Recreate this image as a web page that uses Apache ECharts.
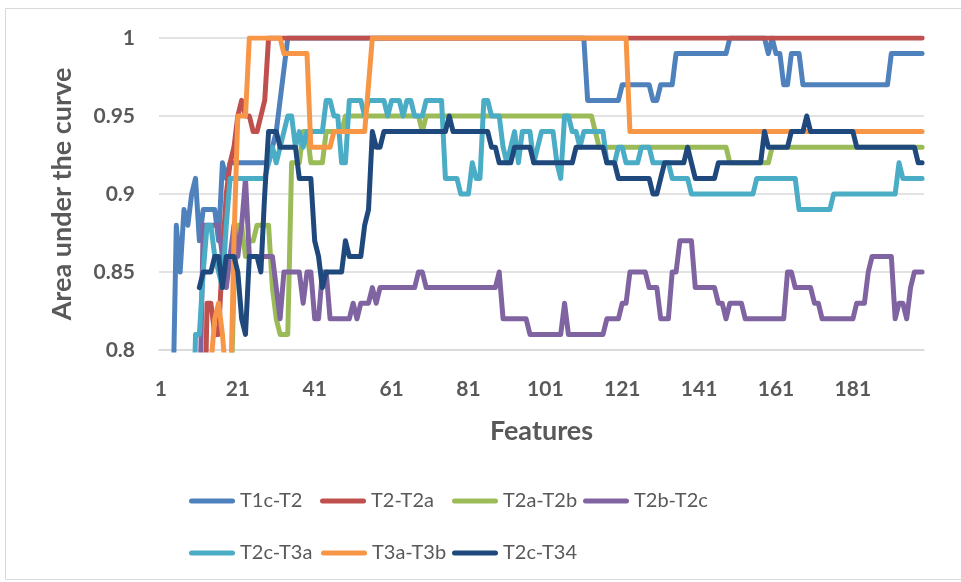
<style>
  body,
  html {
    overflow: hidden;
    width: 100%;
    height: 100%;
    margin: 0;
    padding: 0;
    background: #fff;
  }
  .chart-wrapper {
    position: relative;
    width: 961px;
    height: 582px;
  }
</style>

<div id="chart-wrapper" class="chart-wrapper"></div>

<script src="https://cdn.jsdelivr.net/npm/echarts@6/dist/echarts.min.js"></script>

<script>
  // features 1..199 (values below 0.8 fall under the axis and get clipped, like in Excel)
  const features = [];
  for (let i = 1; i <= 199; i++) features.push(String(i));

  const seriesNames = ["T1c-T2", "T2-T2a", "T2a-T2b", "T2b-T2c", "T2c-T3a", "T3a-T3b", "T2c-T34"];
  const seriesColors = ["#4F81BD", "#C0504D", "#9BBB59", "#8064A2", "#4BACC6", "#F79646", "#1F497D"];
  const yTicks = [0.8, 0.85, 0.9, 0.95, 1];

  const t1cT2 = [
    0.65, 0.7, 0.72, 0.75, 0.88, 0.85, 0.89, 0.88, 0.9, 0.91,
    0.87, 0.89, 0.89, 0.89, 0.89, 0.87, 0.92, 0.91, 0.92, 0.92,
    0.92, 0.92, 0.92, 0.92, 0.92, 0.92, 0.92, 0.92, 0.92, 0.93,
    0.94, 0.96, 0.98, 1, 1, 1, 1, 1, 1, 1,
    1, 1, 1, 1, 1, 1, 1, 1, 1, 1,
    1, 1, 1, 1, 1, 1, 1, 1, 1, 1,
    1, 1, 1, 1, 1, 1, 1, 1, 1, 1,
    1, 1, 1, 1, 1, 1, 1, 1, 1, 1,
    1, 1, 1, 1, 1, 1, 1, 1, 1, 1,
    1, 1, 1, 1, 1, 1, 1, 1, 1, 1,
    1, 1, 1, 1, 1, 1, 1, 1, 1, 1,
    1, 0.96, 0.96, 0.96, 0.96, 0.96, 0.96, 0.96, 0.96, 0.96,
    0.97, 0.97, 0.97, 0.97, 0.97, 0.97, 0.97, 0.97, 0.96, 0.96,
    0.97, 0.97, 0.97, 0.97, 0.99, 0.99, 0.99, 0.99, 0.99, 0.99,
    0.99, 0.99, 0.99, 0.99, 0.99, 0.99, 0.99, 0.99, 1, 1,
    1, 1, 1, 1, 1, 1, 1, 1, 0.99, 1,
    0.99, 0.99, 0.97, 0.97, 0.99, 0.99, 0.99, 0.97, 0.97, 0.97,
    0.97, 0.97, 0.97, 0.97, 0.97, 0.97, 0.97, 0.97, 0.97, 0.97,
    0.97, 0.97, 0.97, 0.97, 0.97, 0.97, 0.97, 0.97, 0.97, 0.97,
    0.99, 0.99, 0.99, 0.99, 0.99, 0.99, 0.99, 0.99, 0.99,
  ];

  const t2T2a = [
    0.7, 0.7, 0.7, 0.7, 0.7, 0.7, 0.7, 0.7, 0.7, 0.7,
    0.7, 0.7, 0.83, 0.83, 0.81, 0.81, 0.86, 0.9, 0.92, 0.93,
    0.95, 0.96, 0.95, 0.95, 0.94, 0.94, 0.95, 0.96, 1, 1,
    1, 1, 1, 1, 1, 1, 1, 1, 1, 1,
    1, 1, 1, 1, 1, 1, 1, 1, 1, 1,
    1, 1, 1, 1, 1, 1, 1, 1, 1, 1,
    1, 1, 1, 1, 1, 1, 1, 1, 1, 1,
    1, 1, 1, 1, 1, 1, 1, 1, 1, 1,
    1, 1, 1, 1, 1, 1, 1, 1, 1, 1,
    1, 1, 1, 1, 1, 1, 1, 1, 1, 1,
    1, 1, 1, 1, 1, 1, 1, 1, 1, 1,
    1, 1, 1, 1, 1, 1, 1, 1, 1, 1,
    1, 1, 1, 1, 1, 1, 1, 1, 1, 1,
    1, 1, 1, 1, 1, 1, 1, 1, 1, 1,
    1, 1, 1, 1, 1, 1, 1, 1, 1, 1,
    1, 1, 1, 1, 1, 1, 1, 1, 1, 1,
    1, 1, 1, 1, 1, 1, 1, 1, 1, 1,
    1, 1, 1, 1, 1, 1, 1, 1, 1, 1,
    1, 1, 1, 1, 1, 1, 1, 1, 1, 1,
    1, 1, 1, 1, 1, 1, 1, 1, 1,
  ];

  const t2aT2b = [
    0.7, 0.7, 0.7, 0.7, 0.7, 0.7, 0.7, 0.7, 0.7, 0.7,
    0.7, 0.7, 0.7, 0.7, 0.7, 0.7, 0.7, 0.7, 0.75, 0.84,
    0.88, 0.88, 0.86, 0.87, 0.87, 0.88, 0.88, 0.88, 0.88, 0.84,
    0.82, 0.81, 0.81, 0.81, 0.92, 0.92, 0.92, 0.94, 0.94, 0.92,
    0.92, 0.92, 0.92, 0.94, 0.94, 0.94, 0.94, 0.94, 0.95, 0.95,
    0.95, 0.95, 0.95, 0.95, 0.95, 0.95, 0.95, 0.95, 0.95, 0.95,
    0.95, 0.95, 0.95, 0.95, 0.95, 0.95, 0.95, 0.95, 0.94, 0.95,
    0.95, 0.95, 0.95, 0.95, 0.95, 0.95, 0.95, 0.95, 0.95, 0.95,
    0.95, 0.95, 0.95, 0.95, 0.95, 0.95, 0.95, 0.95, 0.95, 0.95,
    0.95, 0.95, 0.95, 0.95, 0.95, 0.95, 0.95, 0.95, 0.95, 0.95,
    0.95, 0.95, 0.95, 0.95, 0.95, 0.95, 0.95, 0.95, 0.95, 0.95,
    0.95, 0.95, 0.95, 0.94, 0.93, 0.93, 0.93, 0.93, 0.93, 0.93,
    0.93, 0.93, 0.93, 0.93, 0.93, 0.93, 0.93, 0.93, 0.93, 0.93,
    0.93, 0.93, 0.93, 0.93, 0.93, 0.93, 0.93, 0.93, 0.93, 0.93,
    0.93, 0.93, 0.93, 0.93, 0.93, 0.93, 0.93, 0.93, 0.92, 0.92,
    0.92, 0.92, 0.92, 0.92, 0.92, 0.92, 0.92, 0.92, 0.92, 0.93,
    0.93, 0.93, 0.93, 0.93, 0.93, 0.93, 0.93, 0.93, 0.93, 0.93,
    0.93, 0.93, 0.93, 0.93, 0.93, 0.93, 0.93, 0.93, 0.93, 0.93,
    0.93, 0.93, 0.93, 0.93, 0.93, 0.93, 0.93, 0.93, 0.93, 0.93,
    0.93, 0.93, 0.93, 0.93, 0.93, 0.93, 0.93, 0.93, 0.93,
  ];

  const t2bT2c = [
    0.7, 0.7, 0.7, 0.7, 0.7, 0.7, 0.7, 0.7, 0.7, 0.7,
    0.75, 0.88, 0.88, 0.88, 0.88, 0.88, 0.86, 0.84, 0.86, 0.88,
    0.86, 0.88, 0.91, 0.86, 0.86, 0.86, 0.86, 0.86, 0.86, 0.86,
    0.84, 0.82, 0.85, 0.85, 0.85, 0.85, 0.85, 0.83, 0.85, 0.85,
    0.82, 0.82, 0.85, 0.85, 0.82, 0.82, 0.82, 0.82, 0.82, 0.82,
    0.83, 0.82, 0.83, 0.83, 0.83, 0.84, 0.83, 0.84, 0.84, 0.84,
    0.84, 0.84, 0.84, 0.84, 0.84, 0.84, 0.84, 0.85, 0.85, 0.84,
    0.84, 0.84, 0.84, 0.84, 0.84, 0.84, 0.84, 0.84, 0.84, 0.84,
    0.84, 0.84, 0.84, 0.84, 0.84, 0.84, 0.84, 0.84, 0.85, 0.82,
    0.82, 0.82, 0.82, 0.82, 0.82, 0.82, 0.81, 0.81, 0.81, 0.81,
    0.81, 0.81, 0.81, 0.81, 0.81, 0.83, 0.81, 0.81, 0.81, 0.81,
    0.81, 0.81, 0.81, 0.81, 0.81, 0.81, 0.82, 0.82, 0.82, 0.82,
    0.83, 0.83, 0.85, 0.85, 0.85, 0.85, 0.85, 0.84, 0.84, 0.84,
    0.82, 0.82, 0.82, 0.85, 0.85, 0.87, 0.87, 0.87, 0.87, 0.84,
    0.84, 0.84, 0.84, 0.84, 0.84, 0.83, 0.83, 0.82, 0.83, 0.83,
    0.83, 0.83, 0.82, 0.82, 0.82, 0.82, 0.82, 0.82, 0.82, 0.82,
    0.82, 0.82, 0.82, 0.85, 0.85, 0.84, 0.84, 0.84, 0.84, 0.84,
    0.83, 0.83, 0.82, 0.82, 0.82, 0.82, 0.82, 0.82, 0.82, 0.82,
    0.82, 0.83, 0.83, 0.83, 0.85, 0.86, 0.86, 0.86, 0.86, 0.86,
    0.86, 0.82, 0.83, 0.83, 0.82, 0.84, 0.85, 0.85, 0.85,
  ];

  const t2cT3a = [
    0.7, 0.7, 0.7, 0.7, 0.7, 0.7, 0.7, 0.7, 0.7, 0.81,
    0.81, 0.85, 0.88, 0.88, 0.86, 0.85, 0.84, 0.88, 0.91, 0.91,
    0.91, 0.91, 0.91, 0.91, 0.91, 0.91, 0.91, 0.91, 0.92, 0.93,
    0.92, 0.93, 0.94, 0.95, 0.95, 0.93, 0.94, 0.93, 0.94, 0.94,
    0.94, 0.94, 0.94, 0.96, 0.96, 0.95, 0.95, 0.92, 0.92, 0.96,
    0.96, 0.96, 0.96, 0.95, 0.96, 0.96, 0.96, 0.96, 0.96, 0.95,
    0.96, 0.96, 0.96, 0.95, 0.96, 0.96, 0.95, 0.95, 0.95, 0.96,
    0.96, 0.96, 0.96, 0.96, 0.91, 0.91, 0.91, 0.91, 0.9, 0.9,
    0.9, 0.92, 0.91, 0.91, 0.96, 0.96, 0.95, 0.95, 0.95, 0.93,
    0.92, 0.93, 0.94, 0.92, 0.94, 0.94, 0.94, 0.92, 0.93, 0.94,
    0.94, 0.94, 0.94, 0.92, 0.91, 0.95, 0.95, 0.94, 0.94, 0.93,
    0.94, 0.94, 0.94, 0.94, 0.94, 0.94, 0.92, 0.92, 0.92, 0.93,
    0.93, 0.92, 0.92, 0.92, 0.92, 0.93, 0.93, 0.93, 0.92, 0.92,
    0.92, 0.92, 0.92, 0.91, 0.91, 0.91, 0.91, 0.91, 0.9, 0.9,
    0.9, 0.9, 0.9, 0.9, 0.9, 0.9, 0.9, 0.9, 0.9, 0.9,
    0.9, 0.9, 0.9, 0.9, 0.9, 0.91, 0.91, 0.91, 0.91, 0.91,
    0.91, 0.91, 0.91, 0.91, 0.91, 0.91, 0.89, 0.89, 0.89, 0.89,
    0.89, 0.89, 0.89, 0.89, 0.89, 0.9, 0.9, 0.9, 0.9, 0.9,
    0.9, 0.9, 0.9, 0.9, 0.9, 0.9, 0.9, 0.9, 0.9, 0.9,
    0.9, 0.9, 0.92, 0.91, 0.91, 0.91, 0.91, 0.91, 0.91,
  ];

  const t3aT3b = [
    0.7, 0.7, 0.7, 0.7, 0.7, 0.7, 0.7, 0.7, 0.7, 0.7,
    0.7, 0.7, 0.7, 0.79, 0.82, 0.83, 0.81, 0.78, 0.76, 0.87,
    0.95, 0.95, 0.95, 1, 1, 1, 1, 1, 1, 1,
    1, 1, 0.99, 0.99, 0.99, 0.99, 0.99, 0.99, 0.99, 0.93,
    0.93, 0.93, 0.93, 0.93, 0.93, 0.94, 0.94, 0.94, 0.94, 0.94,
    0.94, 0.94, 0.94, 0.94, 0.97, 1, 1, 1, 1, 1,
    1, 1, 1, 1, 1, 1, 1, 1, 1, 1,
    1, 1, 1, 1, 1, 1, 1, 1, 1, 1,
    1, 1, 1, 1, 1, 1, 1, 1, 1, 1,
    1, 1, 1, 1, 1, 1, 1, 1, 1, 1,
    1, 1, 1, 1, 1, 1, 1, 1, 1, 1,
    1, 1, 1, 1, 1, 1, 1, 1, 1, 1,
    1, 1, 0.94, 0.94, 0.94, 0.94, 0.94, 0.94, 0.94, 0.94,
    0.94, 0.94, 0.94, 0.94, 0.94, 0.94, 0.94, 0.94, 0.94, 0.94,
    0.94, 0.94, 0.94, 0.94, 0.94, 0.94, 0.94, 0.94, 0.94, 0.94,
    0.94, 0.94, 0.94, 0.94, 0.94, 0.94, 0.94, 0.94, 0.94, 0.94,
    0.94, 0.94, 0.94, 0.94, 0.94, 0.94, 0.94, 0.94, 0.94, 0.94,
    0.94, 0.94, 0.94, 0.94, 0.94, 0.94, 0.94, 0.94, 0.94, 0.94,
    0.94, 0.94, 0.94, 0.94, 0.94, 0.94, 0.94, 0.94, 0.94, 0.94,
    0.94, 0.94, 0.94, 0.94, 0.94, 0.94, 0.94, 0.94, 0.94,
  ];

  const t2cT34 = [
    null, null, null, null, null, null, null, null, null, null,
    0.84, 0.85, 0.85, 0.85, 0.86, 0.86, 0.84, 0.86, 0.86, 0.86,
    0.85, 0.82, 0.81, 0.86, 0.86, 0.86, 0.85, 0.9, 0.94, 0.94,
    0.94, 0.93, 0.93, 0.93, 0.93, 0.93, 0.91, 0.91, 0.91, 0.91,
    0.87, 0.86, 0.84, 0.85, 0.85, 0.85, 0.85, 0.85, 0.87, 0.86,
    0.86, 0.86, 0.86, 0.88, 0.89, 0.94, 0.93, 0.93, 0.94, 0.94,
    0.94, 0.94, 0.94, 0.94, 0.94, 0.94, 0.94, 0.94, 0.94, 0.94,
    0.94, 0.94, 0.94, 0.94, 0.94, 0.95, 0.94, 0.94, 0.94, 0.94,
    0.94, 0.94, 0.94, 0.94, 0.94, 0.94, 0.93, 0.93, 0.92, 0.92,
    0.92, 0.92, 0.93, 0.93, 0.93, 0.93, 0.93, 0.92, 0.92, 0.92,
    0.92, 0.92, 0.92, 0.92, 0.92, 0.92, 0.92, 0.92, 0.93, 0.93,
    0.93, 0.93, 0.93, 0.93, 0.93, 0.93, 0.92, 0.92, 0.92, 0.91,
    0.91, 0.91, 0.91, 0.91, 0.91, 0.91, 0.91, 0.91, 0.9, 0.9,
    0.91, 0.92, 0.92, 0.92, 0.92, 0.92, 0.92, 0.93, 0.92, 0.91,
    0.91, 0.91, 0.91, 0.91, 0.91, 0.92, 0.92, 0.92, 0.92, 0.92,
    0.92, 0.92, 0.92, 0.92, 0.92, 0.92, 0.92, 0.94, 0.93, 0.93,
    0.93, 0.93, 0.93, 0.93, 0.94, 0.94, 0.94, 0.94, 0.95, 0.94,
    0.94, 0.94, 0.94, 0.94, 0.94, 0.94, 0.94, 0.94, 0.94, 0.94,
    0.94, 0.93, 0.93, 0.93, 0.93, 0.93, 0.93, 0.93, 0.93, 0.93,
    0.93, 0.93, 0.93, 0.93, 0.93, 0.93, 0.93, 0.92, 0.92,
  ];

  const seriesValues = [t1cT2, t2T2a, t2aT2b, t2bT2c, t2cT3a, t3aT3b, t2cT34];

  // legend slots, laid out like Excel's two-row legend
  const legendSlots = [
    [189, 497], [320, 497], [452, 497], [583, 497],
    [189, 549], [321, 549], [452, 549],
  ];

  const textColor = "#595959";
  const fontFamily = "Lato, 'Open Sans', sans-serif";

  const chartDom = document.getElementById("chart-wrapper");
  const chart = echarts.init(chartDom, null, { renderer: "canvas" });

  const option = {
    backgroundColor: "#fff",
    animation: false,
    textStyle: { fontFamily: fontFamily },
    graphic: [
      {
        type: "rect",
        silent: true,
        shape: { x: 5.5, y: 8.5, width: 962, height: 571 },
        style: { fill: "none", stroke: "#d9d9d9", lineWidth: 1 },
      },
    ],
    grid: { left: 159, right: 37, top: 38, bottom: 232 },
    legend: seriesNames.map((name, i) => ({
      data: [name],
      left: legendSlots[i][0],
      top: legendSlots[i][1] - 11,
      padding: 0,
      itemWidth: 46,
      itemHeight: 5,
      icon: "path://M2.5,0 L43.5,0 A2.5,2.5 0 0 1 43.5,5 L2.5,5 A2.5,2.5 0 0 1 2.5,0 Z",
      selectedMode: false,
      textStyle: { color: textColor, fontSize: 20, lineHeight: 22, fontFamily: fontFamily },
    })),
    xAxis: {
      type: "category",
      data: features,
      boundaryGap: true,
      name: "Features",
      nameLocation: "middle",
      nameGap: 56,
      nameTextStyle: { color: textColor, fontSize: 27, fontWeight: "bold", fontFamily: fontFamily },
      axisLine: { show: true, lineStyle: { color: "#d9d9d9", width: 1.5 } },
      axisTick: { show: false },
      axisLabel: {
        interval: 19,
        margin: 23,
        color: textColor,
        fontSize: 21,
        fontWeight: "bold",
        fontFamily: fontFamily,
      },
      splitLine: { show: false },
    },
    yAxis: {
      type: "value",
      min: yTicks[0],
      max: yTicks[yTicks.length - 1],
      interval: 0.05,
      name: "Area under the curve",
      nameLocation: "middle",
      nameGap: 76,
      nameRotate: 90,
      nameTextStyle: { color: textColor, fontSize: 27, fontWeight: "bold", fontFamily: fontFamily },
      axisLine: { show: false },
      axisTick: { show: false },
      axisLabel: {
        margin: 24,
        color: textColor,
        fontSize: 21,
        fontWeight: "bold",
        fontFamily: fontFamily,
      },
      splitLine: { show: true, lineStyle: { color: "#d9d9d9", width: 1.5 } },
    },
    series: seriesNames.map((name, i) => ({
      name: name,
      type: "line",
      data: seriesValues[i],
      showSymbol: false,
      symbol: "none",
      clip: true,
      connectNulls: false,
      color: seriesColors[i],
      lineStyle: { width: 5, color: seriesColors[i], cap: "round", join: "round" },
    })),
  };

  chart.setOption(option);
</script>
